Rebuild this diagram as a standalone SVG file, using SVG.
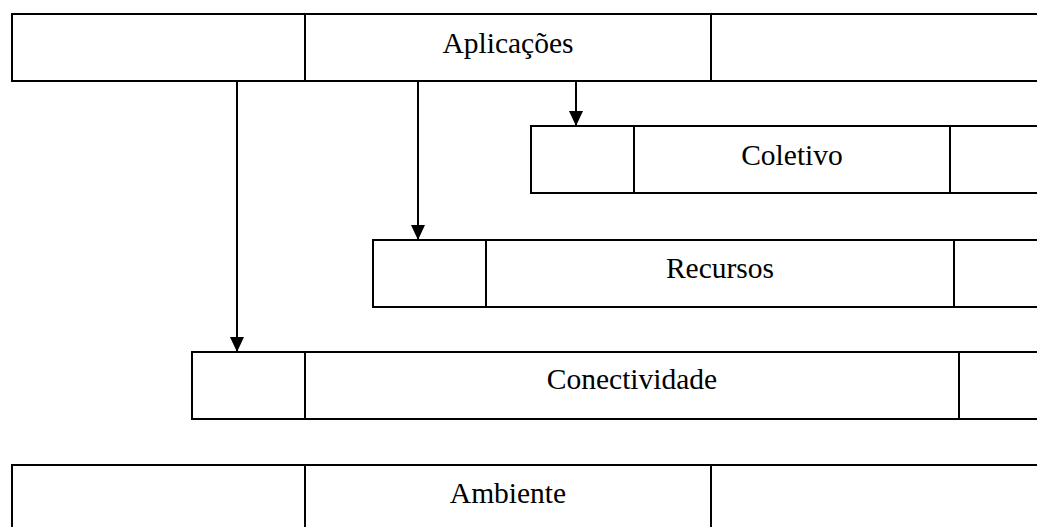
<svg xmlns="http://www.w3.org/2000/svg" width="1037" height="527" viewBox="0 0 1037 527">
  <style>
    .box { fill: #fff; stroke: #000; stroke-width: 2; }
    .div { stroke: #000; stroke-width: 2; }
    .lbl { font-family: "Liberation Serif", "Times New Roman", serif; font-size: 29.5px; fill: #000; text-anchor: middle; }
    .conn { stroke: #000; stroke-width: 2; fill: none; marker-end: url(#arrow); }
  </style>
  <defs>
    <marker id="arrow" viewBox="0 0 15 14" refX="15" refY="7" markerWidth="15" markerHeight="14" markerUnits="userSpaceOnUse" orient="auto">
      <path d="M0,0 L15,7 L0,14 z" fill="#000"/>
    </marker>
  </defs>
  <rect width="1037" height="527" fill="#fff"/>

  <g id="aplicacoes">
    <rect class="box" x="12" y="14" width="1100" height="67"/>
    <line class="div" x1="305" y1="14" x2="305" y2="81"/>
    <line class="div" x1="711" y1="14" x2="711" y2="81"/>
    <text class="lbl" x="508" y="53">Aplicações</text>
  </g>

  <g id="coletivo">
    <rect class="box" x="531" y="126" width="600" height="67"/>
    <line class="div" x1="634" y1="126" x2="634" y2="193"/>
    <line class="div" x1="950" y1="126" x2="950" y2="193"/>
    <text class="lbl" x="792" y="165">Coletivo</text>
  </g>

  <g id="recursos">
    <rect class="box" x="373" y="240" width="760" height="67"/>
    <line class="div" x1="486" y1="240" x2="486" y2="307"/>
    <line class="div" x1="954" y1="240" x2="954" y2="307"/>
    <text class="lbl" x="720" y="278">Recursos</text>
  </g>

  <g id="conectividade">
    <rect class="box" x="192" y="352" width="940" height="67"/>
    <line class="div" x1="305" y1="352" x2="305" y2="419"/>
    <line class="div" x1="959" y1="352" x2="959" y2="419"/>
    <text class="lbl" x="632" y="389">Conectividade</text>
  </g>

  <g id="ambiente">
    <rect class="box" x="12" y="465" width="1100" height="90"/>
    <line class="div" x1="305" y1="465" x2="305" y2="555"/>
    <line class="div" x1="711" y1="465" x2="711" y2="555"/>
    <text class="lbl" x="508" y="503">Ambiente</text>
  </g>

  <g id="connectors">
    <line class="conn" x1="576" y1="81" x2="576" y2="126"/>
    <line class="conn" x1="418" y1="81" x2="418" y2="240"/>
    <line class="conn" x1="237" y1="81" x2="237" y2="352"/>
  </g>
</svg>
